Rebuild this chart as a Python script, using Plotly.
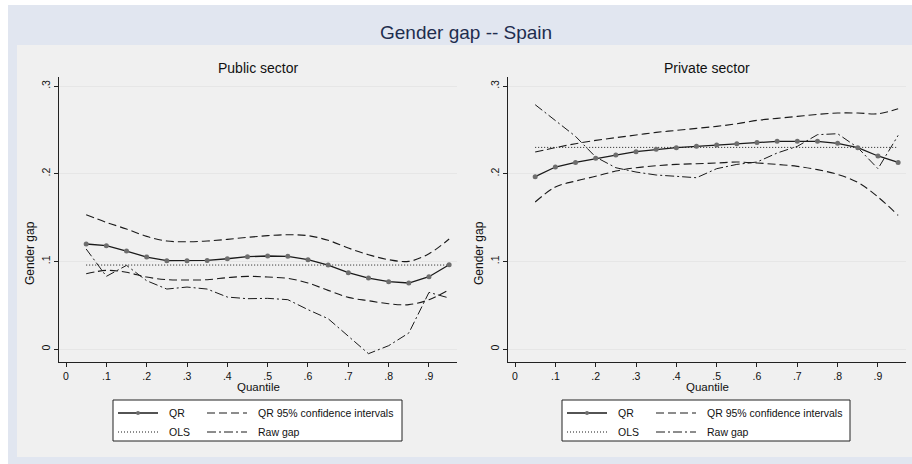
import plotly.graph_objects as go

W, H = 912, 464

quantiles = [0.05, 0.10, 0.15, 0.20, 0.25, 0.30, 0.35, 0.40, 0.45, 0.50,
             0.55, 0.60, 0.65, 0.70, 0.75, 0.80, 0.85, 0.90, 0.95]

# Public sector
pub_qr = [0.1198, 0.1179, 0.1118, 0.1049, 0.1008, 0.1008, 0.1011, 0.1030, 0.1053, 0.1061,
          0.1057, 0.1019, 0.0958, 0.0871, 0.0810, 0.0768, 0.0753, 0.0825, 0.0962]
pub_ci_hi = [0.1532, 0.1445, 0.1369, 0.1285, 0.1232, 0.1224, 0.1232, 0.1251, 0.1274, 0.1293,
             0.1304, 0.1293, 0.1240, 0.1152, 0.1076, 0.1019, 0.1000, 0.1087, 0.1255]
pub_ci_lo = [0.0859, 0.0897, 0.0875, 0.0821, 0.0791, 0.0787, 0.0791, 0.0814, 0.0829, 0.0821,
             0.0806, 0.0753, 0.0669, 0.0589, 0.0551, 0.0517, 0.0506, 0.0563, 0.0677]
pub_raw = [0.1141, 0.0829, 0.0954, 0.0779, 0.0684, 0.0707, 0.0684, 0.0593, 0.0574, 0.0578,
           0.0563, 0.0449, 0.0346, 0.0144, -0.0053, 0.0038, 0.0183, 0.0646, 0.0582]
pub_ols = 0.0958

# Private sector
prv_qr = [0.1966, 0.2076, 0.2129, 0.2175, 0.2213, 0.2251, 0.2278, 0.2297, 0.2312, 0.2327,
          0.2342, 0.2357, 0.2369, 0.2369, 0.2369, 0.2346, 0.2297, 0.2202, 0.2129]
prv_ci_hi = [0.2247, 0.2297, 0.2342, 0.2380, 0.2411, 0.2441, 0.2471, 0.2494, 0.2517, 0.2540,
             0.2570, 0.2608, 0.2631, 0.2654, 0.2677, 0.2692, 0.2692, 0.2684, 0.2741]
prv_ci_lo = [0.1677, 0.1848, 0.1916, 0.1970, 0.2030, 0.2068, 0.2091, 0.2106, 0.2114, 0.2122,
             0.2133, 0.2122, 0.2106, 0.2084, 0.2046, 0.1992, 0.1901, 0.1734, 0.1525]
prv_raw = [0.2787, 0.2608, 0.2426, 0.2190, 0.2068, 0.2019, 0.1985, 0.1970, 0.1954, 0.2057,
           0.2106, 0.2133, 0.2236, 0.2312, 0.2445, 0.2456, 0.2297, 0.2057, 0.2437]
prv_ols = 0.2300

x_tick_vals = [0, 0.1, 0.2, 0.3, 0.4, 0.5, 0.6, 0.7, 0.8, 0.9]
x_tick_text = ["0", ".1", ".2", ".3", ".4", ".5", ".6", ".7", ".8", ".9"]
y_tick_vals = [0, 0.1, 0.2, 0.3]
y_tick_text = ["0", ".1", ".2", ".3"]

panel_titles = ["Public sector", "Private sector"]
x_title = "Quantile"
y_title = "Gender gap"
legend_labels = ["QR", "QR 95% confidence intervals", "OLS", "Raw gap"]

FONT = "Liberation Sans, Arial, sans-serif"
DARK = "#1a1a1a"
DOT_COL = "#6e6e6e"
CI_DASH = "8px,4px"
OLS_DASH = "1px,2px"
RAW_DASH = "9px,3px,2px,3px"


def px(x):
    return x / W


def py(y):
    return 1 - y / H


fig = go.Figure()

panels = [
    (pub_qr, pub_ci_hi, pub_ci_lo, pub_raw, pub_ols, "x", "y"),
    (prv_qr, prv_ci_hi, prv_ci_lo, prv_raw, prv_ols, "x2", "y2"),
]
for qr, hi, lo, raw, ols, xa, ya in panels:
    fig.add_trace(go.Scatter(x=quantiles, y=[ols] * len(quantiles), mode="lines",
                             line=dict(color=DARK, width=1, dash=OLS_DASH),
                             xaxis=xa, yaxis=ya, showlegend=False))
    fig.add_trace(go.Scatter(x=quantiles, y=hi, mode="lines", line_shape="spline",
                             line=dict(color=DARK, width=1.1, dash=CI_DASH),
                             xaxis=xa, yaxis=ya, showlegend=False))
    fig.add_trace(go.Scatter(x=quantiles, y=lo, mode="lines", line_shape="spline",
                             line=dict(color=DARK, width=1.1, dash=CI_DASH),
                             xaxis=xa, yaxis=ya, showlegend=False))
    fig.add_trace(go.Scatter(x=quantiles, y=raw, mode="lines",
                             line=dict(color=DARK, width=1, dash=RAW_DASH),
                             xaxis=xa, yaxis=ya, showlegend=False))
    fig.add_trace(go.Scatter(x=quantiles, y=qr, mode="lines+markers",
                             line=dict(color=DARK, width=1.3),
                             marker=dict(color=DOT_COL, size=5),
                             xaxis=xa, yaxis=ya, showlegend=False))

# layout geometry (pixels)
plot_top, plot_bot = 77, 362
panels_x = [(59, 457), (508, 906)]

axis_common = dict(showline=True, linecolor="#222222", linewidth=1,
                   ticks="outside", ticklen=4, tickcolor="#222222", tickwidth=1,
                   zeroline=False, mirror=False,
                   tickfont=dict(family=FONT, size=10.5, color="#111111"))

xrange = [-0.0174, 0.9695]
yrange = [-0.0148, 0.3103]

for i, (x0, x1) in enumerate(panels_x):
    sfx = "" if i == 0 else str(i + 1)
    fig.layout["xaxis" + sfx] = dict(
        axis_common, domain=[px(x0), px(x1)], range=xrange,
        tickvals=x_tick_vals, ticktext=x_tick_text, showgrid=False,
        anchor="y" + sfx)
    fig.layout["yaxis" + sfx] = dict(
        axis_common, domain=[py(plot_bot), py(plot_top)], range=yrange,
        tickvals=y_tick_vals, ticktext=y_tick_text, tickangle=-90,
        showgrid=True, gridcolor="#e6e6e6", gridwidth=1,
        anchor="x" + sfx)

shapes = [
    dict(type="rect", xref="paper", yref="paper", x0=px(8), x1=px(912), y0=py(464), y1=py(5),
         fillcolor="#e1e6f0", line=dict(width=0), layer="below"),
    dict(type="rect", xref="paper", yref="paper", x0=px(17), x1=px(912), y0=py(457), y1=py(45),
         fillcolor="#f0f0f0", line=dict(width=0), layer="below"),
]
annotations = [
    dict(text="Gender gap -- Spain", xref="paper", yref="paper", x=px(466), y=py(32),
         showarrow=False, font=dict(family=FONT, size=19, color="#1e2d4e"),
         xanchor="center", yanchor="middle"),
]
for (x0, x1), t in zip(panels_x, panel_titles):
    annotations.append(dict(text=t, xref="paper", yref="paper", x=px((x0 + x1) / 2), y=py(68),
                            showarrow=False, font=dict(family=FONT, size=14, color="#111111"),
                            xanchor="center", yanchor="middle"))
    annotations.append(dict(text=x_title, xref="paper", yref="paper", x=px((x0 + x1) / 2), y=py(387),
                            showarrow=False, font=dict(family=FONT, size=11.5, color="#111111"),
                            xanchor="center", yanchor="middle"))
    annotations.append(dict(text=y_title, xref="paper", yref="paper", x=px(x0 - 29), y=py(253),
                            showarrow=False, textangle=-90,
                            font=dict(family=FONT, size=12, color="#111111"),
                            xanchor="center", yanchor="middle"))

# manual legends (one per panel)
legend_boxes = [(113, 402), (562, 850)]
for (bx0, bx1) in legend_boxes:
    shapes.append(dict(type="rect", xref="paper", yref="paper", x0=px(bx0), x1=px(bx1),
                       y0=py(441), y1=py(400), fillcolor="white",
                       line=dict(color="#222222", width=1)))
    s1 = bx0 + 5
    s2 = bx0 + 94
    rows = [413, 432]
    # QR sample
    shapes.append(dict(type="line", xref="paper", yref="paper", x0=px(s1), x1=px(s1 + 40),
                       y0=py(rows[0]), y1=py(rows[0]), line=dict(color=DARK, width=1.3)))
    shapes.append(dict(type="circle", xref="paper", yref="paper", x0=px(s1 + 18), x1=px(s1 + 22),
                       y0=py(rows[0] + 2), y1=py(rows[0] - 2), fillcolor=DOT_COL,
                       line=dict(color=DOT_COL, width=0)))
    # CI sample
    shapes.append(dict(type="line", xref="paper", yref="paper", x0=px(s2), x1=px(s2 + 40),
                       y0=py(rows[0]), y1=py(rows[0]), line=dict(color=DARK, width=1.1, dash=CI_DASH)))
    # OLS sample
    shapes.append(dict(type="line", xref="paper", yref="paper", x0=px(s1), x1=px(s1 + 40),
                       y0=py(rows[1]), y1=py(rows[1]), line=dict(color=DARK, width=1, dash=OLS_DASH)))
    # Raw sample
    shapes.append(dict(type="line", xref="paper", yref="paper", x0=px(s2), x1=px(s2 + 40),
                       y0=py(rows[1]), y1=py(rows[1]), line=dict(color=DARK, width=1, dash=RAW_DASH)))
    pos = [(s1 + 49, rows[0]), (s2 + 49, rows[0]), (s1 + 49, rows[1]), (s2 + 49, rows[1])]
    for lab, (lx, ly) in zip(legend_labels, pos):
        annotations.append(dict(text=lab, xref="paper", yref="paper", x=px(lx), y=py(ly),
                                showarrow=False, xanchor="left", yanchor="middle",
                                font=dict(family=FONT, size=10.5, color="#111111")))

fig.update_layout(
    width=W, height=H, margin=dict(l=0, r=0, t=0, b=0),
    paper_bgcolor="white", plot_bgcolor="white",
    showlegend=False, shapes=shapes, annotations=annotations,
    font=dict(family=FONT),
)

fig.write_html("out.html")
